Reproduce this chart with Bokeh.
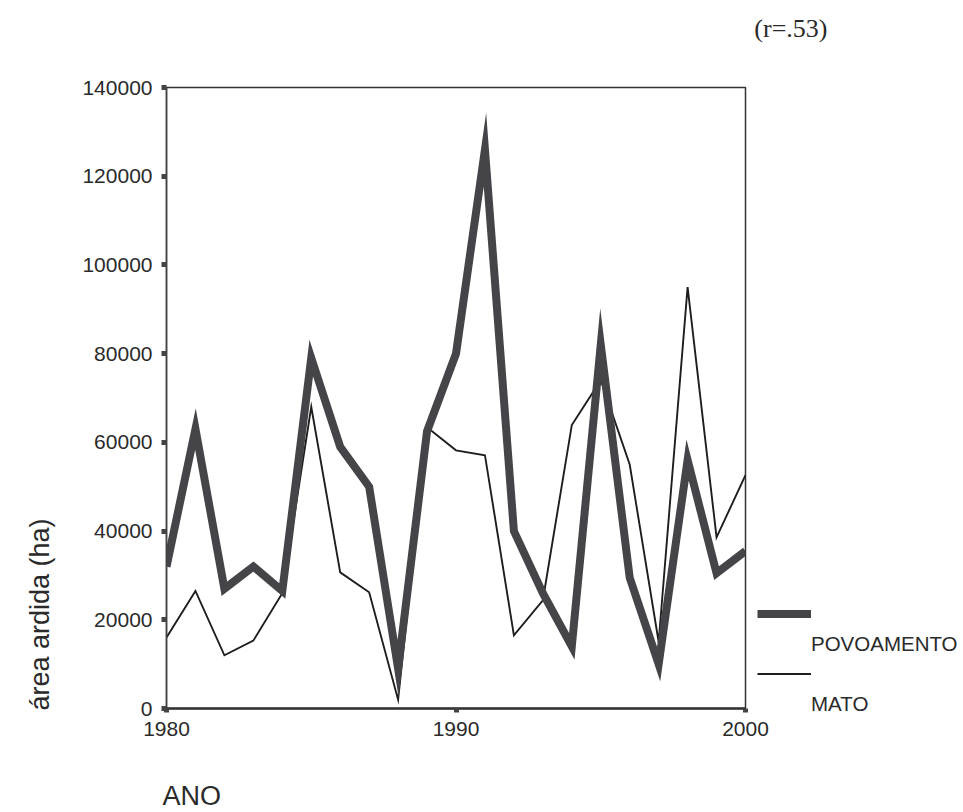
import math
from bokeh.plotting import figure
from bokeh.models import (Range1d, FixedTicker, Legend, LegendItem, Title)
from bokeh.embed import file_html
from bokeh.resources import INLINE

# ---- data ----
years = list(range(1980, 2001))
povoamento = [32000, 63000, 27000, 32000, 26500, 79000, 59000, 50000, 9000, 62500,
              80000, 126000, 40000, 26000, 14000, 82000, 29500, 10000, 56000, 30500, 35500]
mato = [16000, 26500, 12000, 15300, 26000, 68000, 30700, 26200, 2000, 63400,
        58200, 57100, 16500, 24400, 63900, 74000, 55000, 15000, 95000, 38600, 52600]

yticks = [0, 20000, 40000, 60000, 80000, 100000, 120000, 140000]
ytick_labels = ["0", "20000", "40000", "60000", "80000", "100000", "120000", "140000"]
xticks = [1980, 1990, 2000]
xtick_labels = ["1980", "1990", "2000"]
series_names = ["POVOAMENTO", "MATO"]

FONT = "Liberation Sans"
TXT = "#2a2a2a"
THICK = "#454549"
THIN = "#1e1e1e"

p = figure(frame_width=579, frame_height=621,
           min_border_left=166, min_border_right=218, min_border_top=87, min_border_bottom=104,
           x_range=Range1d(1980, 2000), y_range=Range1d(0, 140000),
           output_backend="svg", toolbar_location=None)
p.background_fill_color = "white"
p.border_fill_color = "white"
p.outline_line_color = "#333333"
p.outline_line_width = 1.5
p.xgrid.visible = False
p.ygrid.visible = False

# lines
r_mato = p.line(years, mato, line_color=THIN, line_width=1.9, line_join="miter")
r_pov = p.line(years, povoamento, line_color=THICK, line_width=8, line_join="miter")

# axes
ya = p.yaxis[0]
ya.ticker = FixedTicker(ticks=yticks)
ya.major_label_overrides = {t: l for t, l in zip(yticks, ytick_labels)}
ya.minor_tick_line_color = None
ya.major_tick_in = 0
ya.major_tick_out = 5
ya.major_tick_line_width = 5
ya.major_tick_line_color = "#444444"
ya.axis_line_color = "#444444"
ya.axis_line_width = 1.5
ya.major_label_standoff = 9
ya.major_label_text_font = FONT
ya.major_label_text_font_size = "21px"
ya.major_label_text_color = TXT

xa = p.xaxis[0]
xa.ticker = FixedTicker(ticks=xticks)
xa.major_label_overrides = {t: l for t, l in zip(xticks, xtick_labels)}
xa.minor_tick_line_color = None
xa.major_tick_in = 0
xa.major_tick_out = 4
xa.major_tick_line_width = 5
xa.major_tick_line_color = "#444444"
xa.axis_line_color = "#333333"
xa.axis_line_width = 2.5
xa.major_label_standoff = 9
xa.major_label_text_font = FONT
xa.major_label_text_font_size = "21px"
xa.major_label_text_color = TXT

def title(text, size, font=FONT, **kw):
    return Title(text=text, text_font=font, text_font_size=size,
                 text_font_style="normal", text_color=TXT, vertical_align="middle", **kw)

# y title in the left panel
p.add_layout(title("área ardida (ha)", "27px", align="left", offset=-2, standoff=47), "left")

# x title in the bottom panel (pushed down with a blank spacer)
p.add_layout(title(" ", "10px", align="left", offset=0, standoff=28), "below")
p.add_layout(title("ANO", "27px", align="left", offset=-4, standoff=0), "below")

# correlation note above the frame
p.add_layout(title(" ", "10px", align="right", offset=0, standoff=31), "above")
p.add_layout(title("(r=.53)", "26px", font="Liberation Serif", align="right",
                   offset=-82, standoff=0), "above")

# legend: swatch rows alternate with label rows, labels sitting below-right of swatches
blank = p.line([], [], line_alpha=0)
legend = Legend(items=[LegendItem(label=" ", renderers=[r_pov]),
                       LegendItem(label=series_names[0], renderers=[blank]),
                       LegendItem(label=" ", renderers=[r_mato]),
                       LegendItem(label=series_names[1], renderers=[blank])],
                location=(12, -10), glyph_width=54, glyph_height=29, label_height=29,
                label_width=0, spacing=1, padding=0, margin=0, label_standoff=0,
                border_line_color=None, background_fill_alpha=0,
                label_text_font=FONT, label_text_font_size="20.5px", label_text_color=TXT)
p.add_layout(legend, "right")

open("out.html", "w").write(file_html(p, INLINE))
